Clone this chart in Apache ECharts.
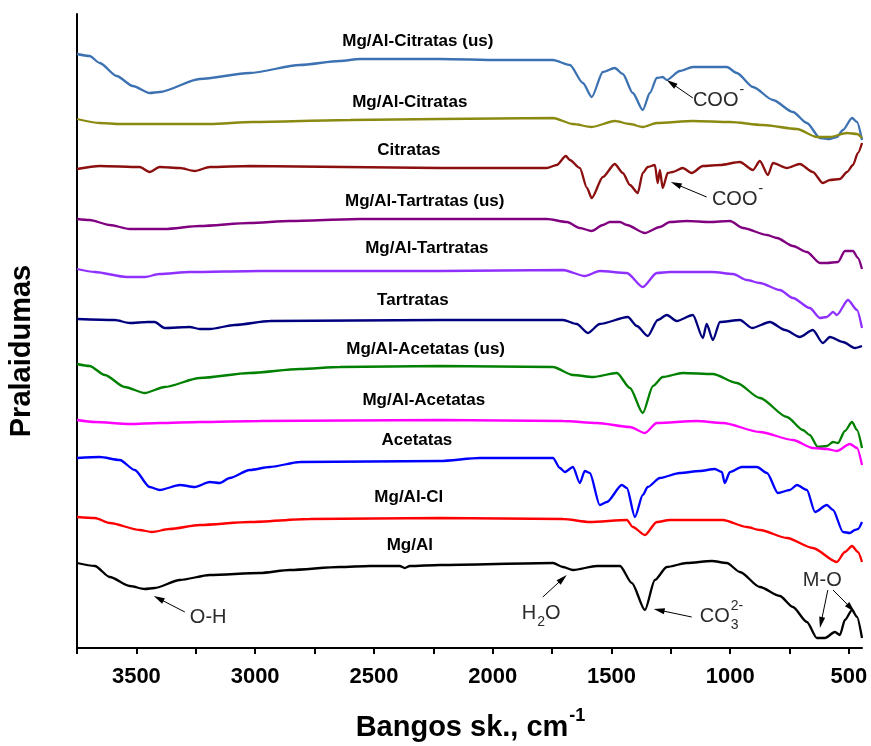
<!DOCTYPE html>
<html>
<head>
<meta charset="utf-8">
<script src="https://cdn.jsdelivr.net/npm/echarts@6/dist/echarts.min.js"></script>
<style>
  html, body { margin: 0; padding: 0; background: #ffffff; }
  #chart { width: 871px; height: 746px; }
</style>
</head>
<body>
<div id="chart"></div>
<script>
// FTIR spectra of layered double hydroxides and their organic anion precursors.
// Curves are offset vertically; values are transmittance in arbitrary units.

const wavenumberMin = 445;
const wavenumberMax = 3750;
const tickValues = [3750, 3500, 3250, 3000, 2750, 2500, 2250, 2000, 1750, 1500, 1250, 1000, 750, 500];
const tickLabels = [3500, 3000, 2500, 2000, 1500, 1000, 500];

const sampleNames = [
  'Mg/Al-Citratas (us)', 'Mg/Al-Citratas', 'Citratas',
  'Mg/Al-Tartratas (us)', 'Mg/Al-Tartratas', 'Tartratas',
  'Mg/Al-Acetatas (us)', 'Mg/Al-Acetatas', 'Acetatas',
  'Mg/Al-Cl', 'Mg/Al'
];

// [wavenumber cm-1, transmittance + offset]
const mgAlCitratasUs = [[3750,594],[3697,592],[3654,585],[3583,572],[3515,562],[3444,555],[3402,556],[3233,569],[3023,575],[2812,583],[2644,587],[2559,589],[2222,589],[1970,588],[1746,588],[1675,583],[1620,565],[1583,551],[1536,576],[1486,580],[1452,574],[1410,555],[1368,538],[1338,555],[1309,570],[1284,571],[1267,568],[1212,577],[1157,581],[1014,581],[972,575],[904,561],[820,548],[736,536],[677,525],[622,510],[580,509],[551,511],[525,518],[487,530],[466,526],[445,508]];
const mgAlCitratas = [[3750,529],[3654,525],[3570,524],[3191,524],[3010,526],[2601,528],[2222,529],[1746,530],[1662,524],[1583,521],[1486,527],[1422,524],[1368,521],[1309,525],[1157,527],[1001,526],[862,523],[719,519],[635,511],[580,511],[508,515],[466,514],[445,510]];
const citratas = [[3750,479],[3654,482],[3486,481],[3444,476],[3402,481],[3317,480],[3254,477],[3191,481],[3023,482],[2222,480],[1772,480],[1730,483],[1692,492],[1675,488],[1633,480],[1603,460],[1583,450],[1536,471],[1486,484],[1452,475],[1422,463],[1389,455],[1368,475],[1347,481],[1317,483],[1305,465],[1296,478],[1284,460],[1263,475],[1242,476],[1200,480],[1162,475],[1115,482],[1043,483],[959,486],[904,478],[875,487],[841,473],[820,485],[761,480],[707,484],[652,476],[610,465],[580,468],[538,469],[508,476],[483,483],[462,495],[445,505]];
const mgAlTartratasUs = [[3750,429],[3697,428],[3612,423],[3528,419],[3381,419],[3233,422],[3023,425],[2854,427],[2559,429],[1772,429],[1687,426],[1633,420],[1583,417],[1536,423],[1507,426],[1464,426],[1435,423],[1359,415],[1296,421],[1254,426],[1183,427],[1086,426],[1001,427],[946,420],[845,413],[803,410],[736,402],[677,396],[622,385],[593,385],[546,386],[517,397],[483,397],[462,390],[445,379]];
const mgAlTartratas = [[3750,379],[3675,376],[3541,371],[3465,371],[3402,374],[3275,376],[2981,377],[2222,377],[1704,378],[1612,372],[1549,377],[1435,375],[1368,361],[1309,375],[1254,376],[1073,376],[988,374],[930,368],[875,365],[791,358],[736,350],[665,340],[622,330],[593,331],[567,336],[551,333],[504,348],[466,338],[445,320]];
const tartratas = [[3750,329],[3591,328],[3528,325],[3452,326],[3423,326],[3381,320],[3275,321],[3233,319],[3191,319],[3086,323],[2938,327],[2222,328],[1704,328],[1646,324],[1599,315],[1549,324],[1431,331],[1393,322],[1347,312],[1305,328],[1267,333],[1225,327],[1157,333],[1115,310],[1099,324],[1073,308],[1043,326],[959,328],[908,320],[833,326],[769,318],[707,311],[652,318],[610,305],[580,311],[525,306],[475,300],[445,302]];
const mgAlAcetatasUs = [[3750,284],[3697,282],[3633,273],[3549,261],[3465,255],[3381,261],[3233,270],[3023,275],[2812,279],[2644,281],[2222,282],[1746,281],[1662,273],[1578,271],[1477,275],[1422,260],[1368,235],[1325,262],[1284,271],[1200,275],[1073,274],[972,265],[875,250],[761,231],[694,218],[665,213],[631,201],[593,202],[567,206],[546,205],[517,217],[487,226],[466,218],[445,200]];
const mgAlAcetatas = [[3750,228],[3675,226],[3528,224],[3402,225],[3233,226],[2981,227],[2222,228],[1704,227],[1561,225],[1422,221],[1359,215],[1309,225],[1141,227],[1031,225],[875,216],[736,208],[652,200],[593,199],[551,197],[496,204],[466,200],[445,183]];
const acetatas = [[3750,190],[3654,191],[3570,188],[3507,178],[3444,161],[3402,158],[3317,163],[3254,161],[3191,166],[3149,165],[3107,170],[3023,178],[2938,181],[2812,186],[2222,187],[2054,190],[1746,190],[1717,180],[1696,176],[1662,181],[1633,165],[1612,177],[1591,175],[1549,143],[1519,146],[1456,163],[1435,160],[1401,131],[1368,153],[1347,161],[1296,170],[1212,175],[1128,177],[1065,179],[1035,176],[1023,165],[1001,176],[951,181],[887,181],[845,175],[799,155],[749,158],[719,163],[677,158],[643,136],[593,143],[567,138],[525,116],[496,115],[475,118],[462,119],[445,126]];
const mgAlCl = [[3750,131],[3675,130],[3612,125],[3486,118],[3435,116],[3360,119],[3233,123],[3023,126],[2770,129],[2222,130],[1704,129],[1591,126],[1435,128],[1410,121],[1359,113],[1309,126],[1254,128],[1031,128],[930,121],[875,118],[761,110],[652,100],[551,86],[517,96],[487,102],[462,96],[445,86]];
const mgAl = [[3750,85],[3675,82],[3612,71],[3528,62],[3465,59],[3423,60],[3317,68],[3191,73],[2981,75],[2854,78],[2644,81],[2517,82],[2391,82],[2370,80],[2349,82],[2222,83],[1746,85],[1704,81],[1662,78],[1561,82],[1464,82],[1414,65],[1359,38],[1317,68],[1267,81],[1183,85],[1077,87],[1014,85],[959,76],[875,61],[791,52],[736,41],[677,26],[635,10],[601,10],[559,16],[538,13],[517,28],[487,38],[466,31],[445,10]];

const spectra = [mgAlCitratasUs, mgAlCitratas, citratas, mgAlTartratasUs, mgAlTartratas, tartratas,
                 mgAlAcetatasUs, mgAlAcetatas, acetatas, mgAlCl, mgAl];
const lineColors = ['#3d72b2', '#8a8a12', '#8b0f0f', '#800080', '#9030ff', '#00007f',
                    '#008000', '#ff00ff', '#0000ff', '#ff0000', '#000000'];

// where each sample name sits (wavenumber, offset value)
const nameAnchors = [[2315,607],[2349,546],[2353,498],[2286,447],[2277,400],[2336,348],
                     [2282,299],[2290,248],[2319,208],[2353,151],[2349,103]];

// band assignments: text anchor plus arrow tail/head
const bandNotes = [
  { parts: [['COO', 0], ['-', -1]], at: [1157, 548], arrows: [[[1157, 550], [1267, 568]]] },
  { parts: [['COO', 0], ['-', -1]], at: [1077, 449], arrows: [[[1099, 451], [1250, 466]]] },
  { parts: [['O-H', 0]], at: [3275, 31], arrows: [[[3296, 36], [3427, 52]]] },
  { parts: [['H', 0], ['2', 1], ['O', 0]], at: [1877, 35], arrows: [[[1789, 51], [1688, 73]]] },
  { parts: [['CO', 0], ['3', 1], ['2-', -2]], at: [1128, 32], arrows: [[[1162, 31], [1322, 39]]] },
  { parts: [['M-O', 0]], at: [694, 68], arrows: [[[589, 58], [622, 20]], [[567, 58], [475, 36]]] }
];

const FONT = 'Arial, "Liberation Sans", Helvetica, sans-serif';

const chart = echarts.init(document.getElementById('chart'), null, { renderer: 'canvas' });

chart.setOption({
  animation: false,
  backgroundColor: '#ffffff',
  grid: { left: 77, right: 9, top: 14, bottom: 98 },
  xAxis: {
    type: 'value',
    inverse: true,
    min: wavenumberMin,
    max: wavenumberMax,
    axisLine: { show: true, onZero: false, lineStyle: { color: '#000', width: 2 } },
    axisTick: { show: true, inside: false, length: 6, lineStyle: { color: '#000', width: 2 }, customValues: tickValues },
    axisLabel: {
      customValues: tickLabels, margin: 18, formatter: v => String(v),
      fontFamily: FONT, fontWeight: 'bold', fontSize: 22, color: '#000'
    },
    splitLine: { show: false }
  },
  yAxis: {
    type: 'value',
    min: 0,
    max: 634,
    axisLine: { show: true, lineStyle: { color: '#000', width: 2 } },
    axisTick: { show: false },
    axisLabel: { show: false },
    splitLine: { show: false }
  },
  series: spectra.map((d, i) => ({
    name: sampleNames[i],
    type: 'line',
    data: d,
    showSymbol: false,
    smooth: 0.25,
    smoothMonotone: 'x',
    lineStyle: { color: lineColors[i], width: 2.3 },
    z: 2
  }))
});

// text measuring for composed labels
const measureCtx = document.createElement('canvas').getContext('2d');
function textWidth(str, size, weight) {
  measureCtx.font = (weight || 'normal') + ' ' + size + 'px ' + FONT;
  return measureCtx.measureText(str).width;
}
function toPx(p) { return chart.convertToPixel({ gridIndex: 0 }, p); }

const graphics = [];

// sample names
sampleNames.forEach((name, i) => {
  const [x, y] = toPx(nameAnchors[i]);
  graphics.push({
    type: 'text', x: x, y: y, z: 10,
    style: { text: name, fill: '#000', font: 'bold 17px ' + FONT, textAlign: 'center', textVerticalAlign: 'middle' }
  });
});

// band notes with arrows
const NOTE_SIZE = 20, SMALL_SIZE = 14;
bandNotes.forEach(note => {
  let [x, y] = toPx(note.at);
  let lastMainRight = x;
  let scriptStart = null;
  note.parts.forEach(([str, kind]) => {
    if (kind === 0) {
      graphics.push({ type: 'text', x: x, y: y, z: 10,
        style: { text: str, fill: '#2b2b2b', font: NOTE_SIZE + 'px ' + FONT, textAlign: 'left', textVerticalAlign: 'middle' } });
      x += textWidth(str, NOTE_SIZE);
      lastMainRight = x;
      scriptStart = null;
    } else {
      // 1: subscript, -1: superscript after text, -2: superscript stacked over previous subscript
      const sx = kind === -2 && scriptStart !== null ? scriptStart : lastMainRight + 1;
      const sy = kind === 1 ? y + 9 : y - 10;
      graphics.push({ type: 'text', x: sx, y: sy, z: 10,
        style: { text: str, fill: '#2b2b2b', font: SMALL_SIZE + 'px ' + FONT, textAlign: 'left', textVerticalAlign: 'middle' } });
      if (kind === 1) scriptStart = sx;
      x = Math.max(x, sx + textWidth(str, SMALL_SIZE));
    }
  });
  note.arrows.forEach(([tail, head]) => {
    const [tx, ty] = toPx(tail);
    const [hx, hy] = toPx(head);
    const len = Math.hypot(hx - tx, hy - ty);
    const ux = (hx - tx) / len, uy = (hy - ty) / len;
    const L = 11, W = 3;
    const bx = hx - ux * L, by = hy - uy * L;
    graphics.push({ type: 'line', z: 10, shape: { x1: tx, y1: ty, x2: bx + ux * 2, y2: by + uy * 2 },
      style: { stroke: '#000', lineWidth: 1 } });
    graphics.push({ type: 'polygon', z: 10,
      shape: { points: [[hx, hy], [bx - uy * W, by + ux * W], [bx + uy * W, by - ux * W]] },
      style: { fill: '#000' } });
  });
});

// axis titles
graphics.push({
  type: 'text', x: 22, y: 351, rotation: Math.PI / 2, z: 10,
  style: { text: 'Pralaidumas', fill: '#000', font: 'bold 29px ' + FONT, textAlign: 'center', textVerticalAlign: 'middle' }
});
const xTitleMain = 'Bangos sk., cm', xTitleSup = '-1';
const mainW = textWidth(xTitleMain, 29, 'bold'), supW = textWidth(xTitleSup, 18, 'bold');
const titleLeft = 470 - (mainW + supW) / 2;
graphics.push({
  type: 'text', x: titleLeft, y: 728, z: 10,
  style: { text: xTitleMain, fill: '#000', font: 'bold 29px ' + FONT, textAlign: 'left', textVerticalAlign: 'middle' }
});
graphics.push({
  type: 'text', x: titleLeft + mainW + 1, y: 716, z: 10,
  style: { text: xTitleSup, fill: '#000', font: 'bold 18px ' + FONT, textAlign: 'left', textVerticalAlign: 'middle' }
});

chart.setOption({ graphic: graphics });
</script>
</body>
</html>
